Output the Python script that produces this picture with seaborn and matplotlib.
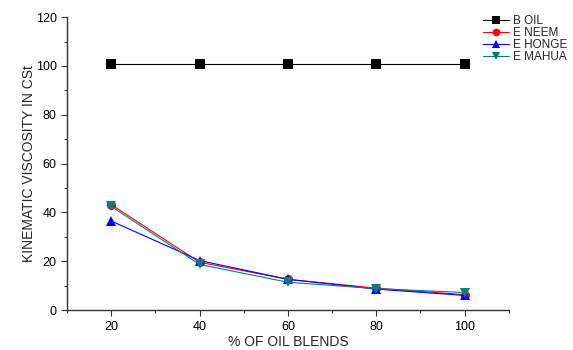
import matplotlib
matplotlib.use("Agg")
import matplotlib.pyplot as plt
import seaborn as sns
import pandas as pd
from matplotlib.ticker import MultipleLocator

blends = [20, 40, 60, 80, 100]
b_oil = [101, 101, 101, 101, 101]
e_neem = [43.2, 19.6, 12.6, 9.0, 6.3]
e_honge = [36.5, 20.3, 12.6, 8.6, 6.0]
e_mahua = [42.5, 18.7, 11.4, 8.8, 7.2]
series_names = ["B OIL", "E NEEM", "E HONGE", "E MAHUA"]

df = pd.DataFrame({
    "blend": blends * 4,
    "visc": b_oil + e_neem + e_honge + e_mahua,
    "series": sum([[n] * len(blends) for n in series_names], []),
})

sns.set_style("ticks")
plt.rcParams["font.family"] = ["Liberation Sans", "DejaVu Sans"]

fig = plt.figure(figsize=(5.73, 3.5), dpi=100)
ax = fig.add_axes([0.117, 0.114, 0.771, 0.837])

palette = {"B OIL": "black", "E NEEM": "red", "E HONGE": "blue", "E MAHUA": "#008080"}
markers = {"B OIL": "s", "E NEEM": "o", "E HONGE": "^", "E MAHUA": "v"}
sns.lineplot(data=df, x="blend", y="visc", hue="series", style="series",
             palette=palette, markers=markers, dashes=False, markersize=6.5,
             markeredgewidth=0, linewidth=0.8, ax=ax)

ax.set_xlim(10, 110)
ax.set_ylim(0, 120)
ax.xaxis.set_major_locator(MultipleLocator(20))
ax.xaxis.set_minor_locator(MultipleLocator(10))
ax.yaxis.set_major_locator(MultipleLocator(20))
ax.yaxis.set_minor_locator(MultipleLocator(10))
ax.set_xticks([20, 40, 60, 80, 100])
ax.tick_params(which="major", direction="out", length=4, width=0.8, labelsize=9, colors="#333333", labelcolor="black")
ax.tick_params(which="minor", direction="out", length=2.5, width=0.8, colors="#333333")
for s in ["left", "bottom"]:
    ax.spines[s].set_color("#333333")
    ax.spines[s].set_linewidth(1.0)
sns.despine(ax=ax)

ax.set_xlabel("% OF OIL BLENDS", fontsize=10, labelpad=2)
ax.set_ylabel("KINEMATIC VISCOSITY IN CSt", fontsize=10, labelpad=0)

handles, labels = ax.get_legend_handles_labels()
ax.legend_.remove()
fig.legend(handles, labels, loc="upper left", bbox_to_anchor=(483 / 573, 1 - 15 / 350),
           frameon=False, fontsize=8.5, handlelength=2.2, handletextpad=0.3,
           labelspacing=0.0, borderaxespad=0, borderpad=0, markerscale=0.85)

fig.savefig("out.png", dpi=100)
